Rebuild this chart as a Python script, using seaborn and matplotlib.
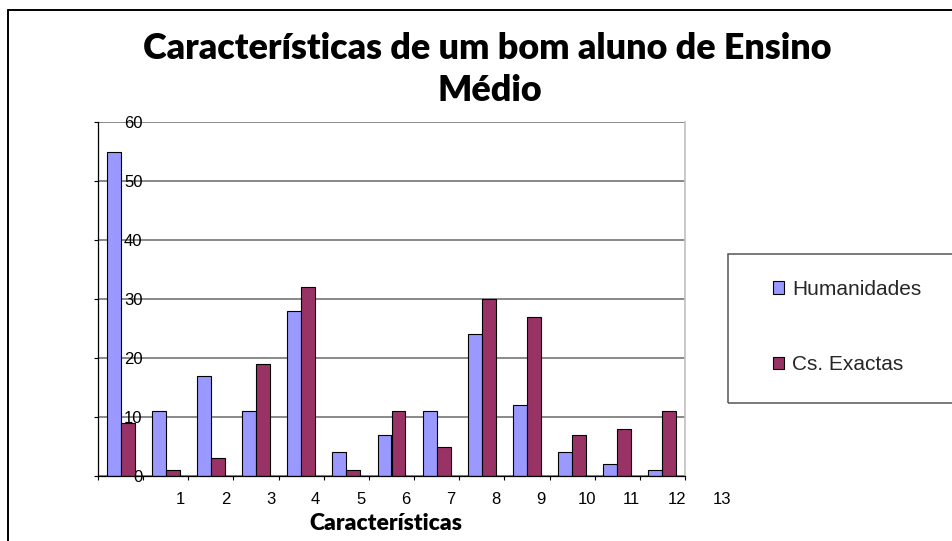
import matplotlib
matplotlib.use('Agg')
import matplotlib.pyplot as plt
import matplotlib.transforms as mtransforms
from matplotlib.patches import Rectangle
from matplotlib.lines import Line2D
import seaborn as sns
import pandas as pd

# ---- data ----
categories = list(range(13))
humanidades = [55, 11, 17, 11, 28, 4, 7, 11, 24, 12, 4, 2, 1]
exactas = [9, 1, 3, 19, 32, 1, 11, 5, 30, 27, 7, 8, 11]
series_names = ['Humanidades', 'Cs. Exactas']
x_tick_labels = [str(i) for i in range(1, 14)]
y_ticks = [0, 10, 20, 30, 40, 50, 60]
title_lines = ['Características de um bom aluno de Ensino', 'Médio']
x_label = 'Características'
colors = ['#9999FF', '#993366']

df = pd.DataFrame({
    'cat': categories * 2,
    'val': humanidades + exactas,
    'serie': [series_names[0]] * len(categories) + [series_names[1]] * len(categories),
})

sns.set_theme(style='white')
plt.rcParams['font.family'] = ['Liberation Sans', 'DejaVu Sans']

W, H = 953, 541
fig = plt.figure(figsize=(W / 100, H / 100), dpi=100)
fig.patch.set_facecolor('white')


def fx(px):
    return px / W


def fy(py):
    return 1 - py / H


ax = fig.add_axes([fx(98), fy(476), (685 - 98) / W, (476 - 122) / H])
sns.barplot(data=df, x='cat', y='val', hue='serie', order=categories,
            hue_order=series_names, palette=colors, width=0.62, saturation=1,
            edgecolor='black', linewidth=0.8, errorbar=None, ax=ax)

leg = ax.get_legend()
handles = list(leg.legend_handles)
labels = [t.get_text() for t in leg.get_texts()]
leg.remove()

ax.set_xlim(-0.5, len(categories) - 0.5)
ax.set_ylim(0, 60)
ax.set_yticks(y_ticks)
ax.set_yticklabels([str(v) for v in y_ticks])
ax.yaxis.grid(True, color='#808080', lw=1.3)
ax.xaxis.grid(False)
ax.set_axisbelow(True)
ax.set_xticks([i - 0.5 for i in range(len(categories) + 1)])
ax.set_xticklabels([])
ax.set_xlabel('')
ax.set_ylabel('')
ax.tick_params(axis='x', direction='out', length=3, width=0.8, color='black', bottom=True)
ax.tick_params(axis='y', direction='out', length=3, width=0.8, color='black', left=True,
               pad=-35, labelsize=12, labelcolor='black')
for lab in ax.get_yticklabels():
    lab.set_fontfamily(['Liberation Sans', 'DejaVu Sans'])

ax.spines['top'].set_visible(False)
ax.spines['right'].set_color('#c0c0c0')
ax.spines['right'].set_linewidth(1.2)
for s in ['left', 'bottom']:
    ax.spines[s].set_color('black')
    ax.spines[s].set_linewidth(0.9)

# x labels (offset as in reference)
trans = mtransforms.blended_transform_factory(ax.transData, ax.transAxes)
for k, lab in enumerate(x_tick_labels, start=1):
    ax.text(k + 0.32, -23 / 354, lab, transform=trans, ha='center', va='center',
            fontsize=12, color='black', clip_on=False)

# titles
t1 = fig.text(fx(487), fy(59), title_lines[0], ha='center', va='baseline',
              fontsize=22, fontweight='heavy', family='Lato', color='black')
t2 = fig.text(fx(490), fy(101), title_lines[1], ha='center', va='baseline',
              fontsize=22, fontweight='heavy', family='Lato', color='black')
xl = fig.text(fx(386), fy(530), x_label, ha='center', va='baseline',
              fontsize=14, fontweight='heavy', family='Lato', color='black')
fig.canvas.draw()
r = fig.canvas.get_renderer()
w1 = t1.get_window_extent(r).width
s1 = 22 * 690 / w1
t1.set_fontsize(s1)
t2.set_fontsize(s1)
wx = xl.get_window_extent(r).width
xl.set_fontsize(14 * 153 / wx)

# legend
fig.legend(handles, labels, loc='upper left', bbox_to_anchor=(fx(773), fy(280)),
           bbox_transform=fig.transFigure, frameon=False, borderpad=0,
           borderaxespad=0, handlelength=0.55, handleheight=0.55,
           handletextpad=0.38, labelspacing=2.7,
           prop={'family': ['Liberation Sans', 'DejaVu Sans'], 'size': 15})
fig.patches.append(Rectangle((fx(728), fy(403)), (980 - 728) / W, (403 - 254) / H,
                             transform=fig.transFigure, fill=False,
                             edgecolor='#555555', lw=1.1))

# outer border (top and left visible)
fig.lines.append(Line2D([fx(8), fx(8)], [fy(10), fy(545)], transform=fig.transFigure,
                        color='black', lw=1.4))
fig.lines.append(Line2D([fx(8), fx(960)], [fy(10), fy(10)], transform=fig.transFigure,
                        color='black', lw=1.4))

fig.savefig('out.png', dpi=100)
